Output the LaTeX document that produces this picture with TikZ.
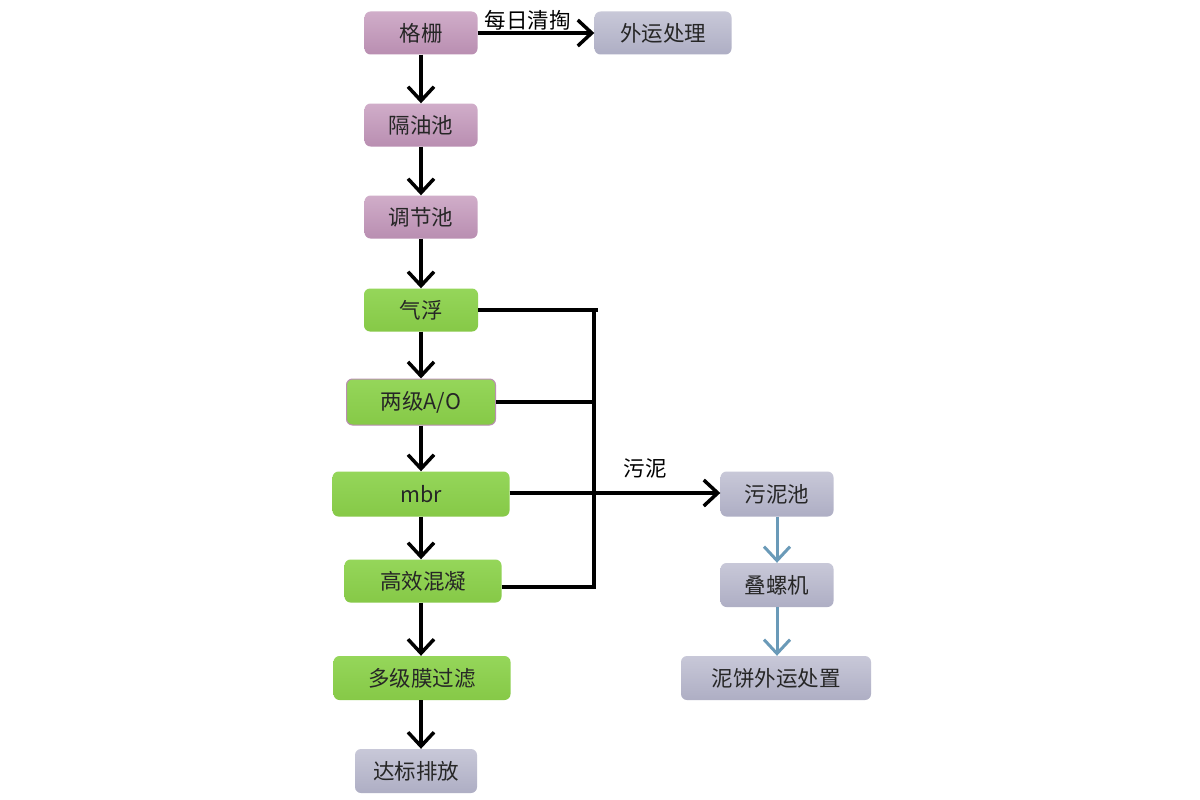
\documentclass[tikz,border=0pt]{standalone}
\usepackage{fontspec}
\setmainfont{Liberation Sans}
\newfontfamily\cjk{Noto Sans CJK SC}
\usetikzlibrary{arrows.meta,shadows}
\definecolor{pinkT}{HTML}{D0ADC9}
\definecolor{pinkB}{HTML}{B98EB1}
\definecolor{greenT}{HTML}{95D65A}
\definecolor{greenB}{HTML}{86C947}
\definecolor{grayT}{HTML}{C8C8D8}
\definecolor{grayB}{HTML}{AEAEC4}
\definecolor{bluearr}{HTML}{6A9AB8}
\begin{document}
\begin{tikzpicture}[x=1pt,y=-1pt,
  box/.style={rounded corners=6pt,minimum height=43pt,inner sep=0pt,font=\cjk\fontsize{21.5}{24}\selectfont,text=black!85},
  pinkbox/.style={box,top color=pinkT,bottom color=pinkB,draw=none},
  greenbox/.style={box,top color=greenT,bottom color=greenB,draw=none},
  graybox/.style={box,top color=grayT,bottom color=grayB,draw=none},
  flow/.style={line width=3.5pt,-{Straight Barb[length=14pt,width=26pt,line width=3.5pt]}},
  bflow/.style={line width=3pt,bluearr,-{Straight Barb[length=14pt,width=26pt,line width=3pt]}},
  pipe/.style={line width=3.5pt},
  lab/.style={font=\cjk\fontsize{21.5}{24}\selectfont,text=black}]
\useasboundingbox (0,0) rectangle (1200,800);
\fill[white] (0,0) rectangle (1200,800);
\node[pinkbox,minimum width=113pt] (gs) at (421,33) {格栅};
\node[graybox,minimum width=137pt] (wy) at (663,33) {外运处理};
\node[pinkbox,minimum width=113pt] (gy) at (421,125) {隔油池};
\node[pinkbox,minimum width=113pt] (tj) at (421,217) {调节池};
\node[greenbox,minimum width=114pt] (qf) at (421,310) {气浮};
\node[greenbox,minimum width=149pt,minimum height=46pt,draw=pinkB,line width=1pt] (ao) at (421,402) {两级A/O};
\node[greenbox,minimum width=177pt,minimum height=45pt] (mbr) at (421,494) {mbr};
\node[greenbox,minimum width=157pt] (hx) at (423,581) {高效混凝};
\node[greenbox,minimum width=177pt,minimum height=44pt] (dm) at (422,678) {多级膜过滤};
\node[graybox,minimum width=122pt,minimum height=44pt] (db) at (416,771) {达标排放};
\node[graybox,minimum width=113pt,minimum height=45pt] (wn) at (777,494) {污泥池};
\node[graybox,minimum width=113pt,minimum height=44pt] (dl) at (777,585) {叠螺机};
\node[graybox,minimum width=190pt,minimum height=44pt] (nb) at (776,678) {泥饼外运处置};
\coordinate (jt) at (598,310);
\coordinate (vt) at (594,308.25);
\coordinate (ja) at (594,402);
\coordinate (jh) at (594,587);
\coordinate (vb) at (594,588.75);
\coordinate (jm) at (594,493);
% main flow
\draw[flow] (gs.south) -- (gy.north);
\draw[flow] (gy.south) -- (tj.north);
\draw[flow] (tj.south) -- (qf.north);
\draw[flow] (qf.south) -- (ao.north);
\draw[flow] (ao.south) -- (mbr.north);
\draw[flow] (mbr.south) -- (hx.north-|mbr.south);
\draw[flow] (hx.south-|mbr.south) -- (dm.north-|mbr.south);
\draw[flow] (dm.south-|mbr.south) -- (db.north-|mbr.south);
\draw[flow] (gs.east) -- node[lab,above=-2pt,pos=0.43] {每日清掏} (wy.west);
% sludge collection
\draw[pipe] (qf.east) -- (jt);
\draw[pipe] (vt) -- (vb);
\draw[pipe] (ao.east) -- (ja);
\draw[pipe] (hx.east|-jh) -- ([xshift=1.75pt]jh);
\draw[flow] (mbr.east|-jm) -- (wn.west|-jm);
\node[lab] (wnl) at (645,468) {污泥};
\draw[bflow] (wn.south) -- (dl.north);
\draw[bflow] (dl.south) -- (nb.north-|dl.south);
\end{tikzpicture}
\end{document}
